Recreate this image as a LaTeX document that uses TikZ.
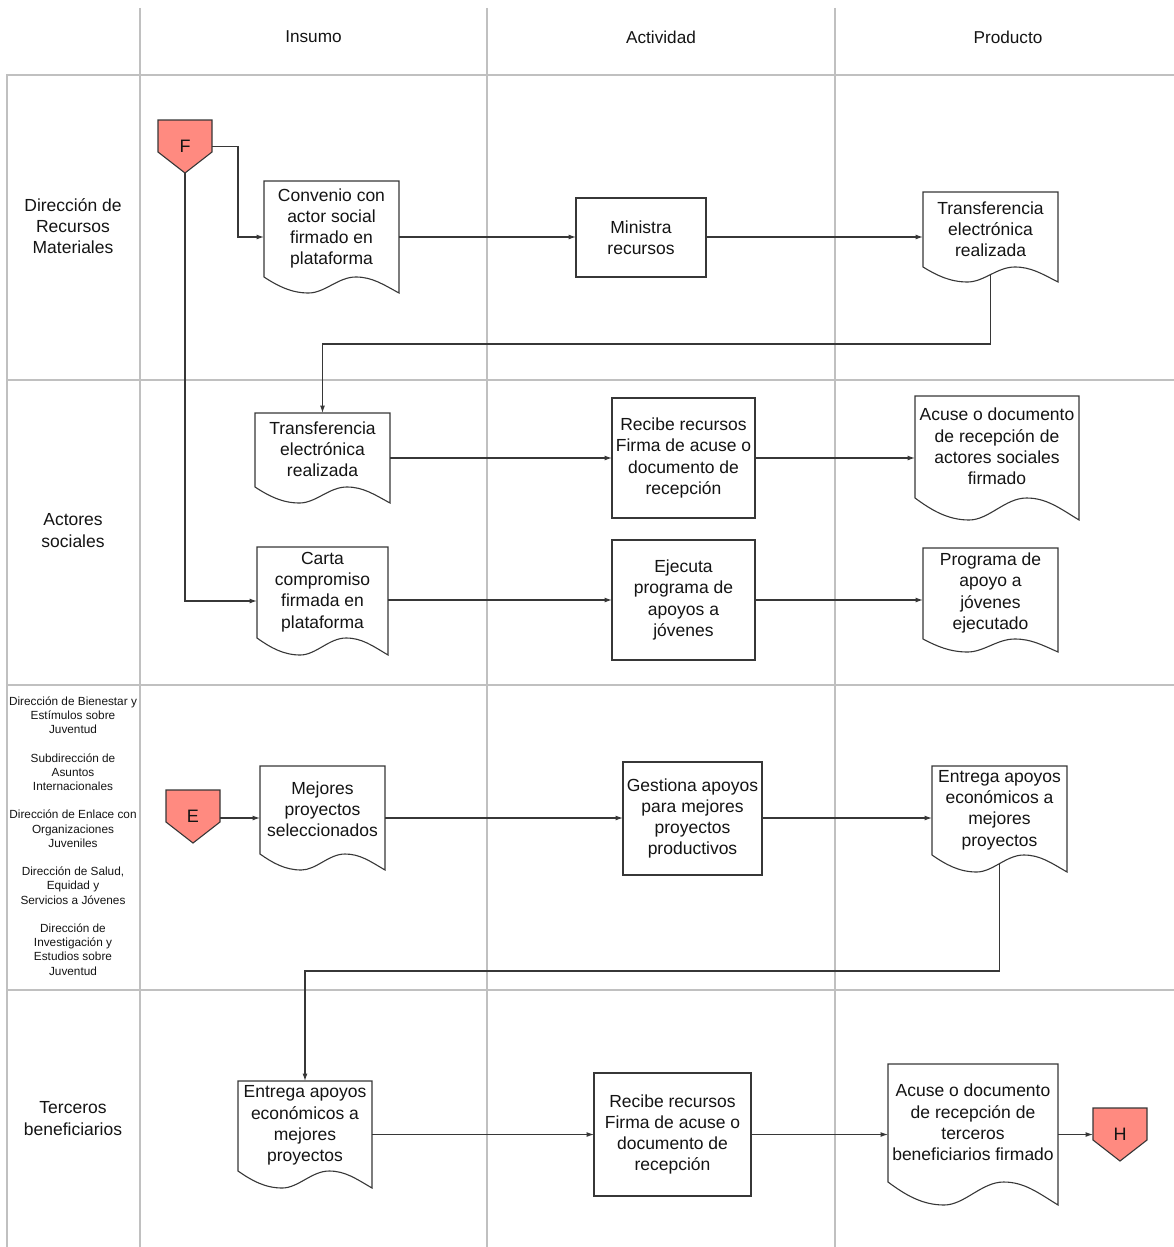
\documentclass[tikz,border=0pt]{standalone}
\usepackage{fontspec}
\setmainfont{Liberation Sans}
\usetikzlibrary{arrows.meta,calc}
\definecolor{gridc}{RGB}{192,192,192}
\definecolor{linec}{RGB}{55,55,55}
\definecolor{salmon}{RGB}{255,138,128}
\definecolor{txtc}{RGB}{20,20,20}

\tikzset{
  gridline/.style={draw=gridc, line width=1.5pt},
  shapeline/.style={draw=linec, line width=1.1pt, fill=white, line join=miter},
  ghost/.style={draw=none, inner sep=0pt, outer sep=0pt},
  txt/.style={font=\fontsize{17.5}{21.2}\selectfont, align=center, text=txtc, inner sep=0pt},
  rectbox/.style={shapeline, rectangle, inner sep=0pt, outer sep=0pt, txt},
  lanelabel/.style={txt},
  smalllabel/.style={font=\fontsize{11.8}{14.2}\selectfont, align=center, text=txtc, inner sep=0pt},
  headlabel/.style={font=\fontsize{17.2}{20}\selectfont, align=center, text=txtc, inner sep=0pt},
  arr/.style={draw=linec, line width=1.1pt, -{Latex[length=7.5pt,width=5pt]}},
}

% document shape: name, L, T, R, B, wave depth, text
\newcommand\docnode[7]{%
  \pgfmathsetmacro\dWd{#4-#2}%
  \pgfmathsetmacro\dHd{#5-#3}%
  \draw[shapeline] (#2,#3) -- (#4,#3) -- (#4,#5)
    .. controls ({#2+0.88*\dWd},{#5-0.55*#6}) and ({#2+0.8*\dWd},{#5-#6}) .. ({#2+0.68*\dWd},{#5-#6})
    .. controls ({#2+0.55*\dWd},{#5-#6}) and ({#2+0.45*\dWd},#5) .. ({#2+0.33*\dWd},#5)
    .. controls ({#2+0.2*\dWd},#5) and ({#2+0.1*\dWd},{#5-0.45*#6}) .. (#2,{#5-#6}) -- cycle;
  \node[ghost, minimum width=\dWd pt, minimum height=\dHd pt] (#1) at ({(#2+#4)/2},{(#3+#5)/2}) {};
  \node[txt] (#1-t) at ({(#2+#4)/2},{(#3+#5-#6)/2-0.5}) {#7};
}
% process box: name, L, T, R, B, text
\newcommand\rectnode[6]{%
  \pgfmathsetmacro\dWd{#4-#2}%
  \pgfmathsetmacro\dHd{#5-#3}%
  \node[rectbox, minimum width=\dWd pt, minimum height=\dHd pt] (#1) at ({(#2+#4)/2},{(#3+#5)/2}) {#6};
}
% off-page connector: name, cx, top, letter
\newcommand\offnode[4]{%
  \draw[shapeline, fill=salmon] ({#2-27},#3) -- ({#2+27},#3) -- ({#2+27},{#3+32}) -- (#2,{#3+53}) -- ({#2-27},{#3+32}) -- cycle;
  \node[ghost, minimum width=54pt, minimum height=53pt, font=\fontsize{18}{20}\selectfont, text=txtc] (#1) at (#2,{#3+26.5}) {#4};
}

\begin{document}
\begin{tikzpicture}[x=1pt,y=-1pt]
\useasboundingbox (0,0) rectangle (1174,1247);

% ---- grid ----
\draw[gridline] (140,8) -- (140,1247);
\draw[gridline] (487,8) -- (487,1247);
\draw[gridline] (835,8) -- (835,1247);
\draw[gridline] (7,1247) -- (7,75) -- (1174,75);
\draw[gridline] (7,380) -- (1174,380);
\draw[gridline] (7,685) -- (1174,685);
\draw[gridline] (7,990) -- (1174,990);

% ---- headers ----
\node[headlabel] (h1) at (313.5,37) {Insumo};
\node[headlabel] (h2) at (661,37) {Actividad};
\node[headlabel] (h3) at (1008,37) {Producto};

% ---- lane labels ----
\node[lanelabel] (l1) at (73,226) {Dirección de\\Recursos\\Materiales};
\node[lanelabel] (l2) at (73,530.5) {Actores\\sociales};
\node[smalllabel] (l3) at (73,836) {Dirección de Bienestar y\\Estímulos sobre\\Juventud\\[14.2pt]Subdirección de\\Asuntos\\Internacionales\\[14.2pt]Dirección de Enlace con\\Organizaciones\\Juveniles\\[14.2pt]Dirección de Salud,\\Equidad y\\Servicios a Jóvenes\\[14.2pt]Dirección de\\Investigación y\\Estudios sobre\\Juventud};
\node[lanelabel] (l4) at (73,1118.5) {Terceros\\beneficiarios};

% ---- lane 1 ----
\offnode{F}{185}{120}{F}
\docnode{conv}{264}{181}{399}{293}{16}{Convenio con\\actor social\\firmado en\\plataforma}
\rectnode{mini}{576}{198}{706}{277}{Ministra\\recursos}
\docnode{trA}{923}{192}{1058}{282}{15}{Transferencia\\electrónica\\realizada}

% ---- lane 2 ----
\docnode{trB}{255}{413}{390}{503}{16}{Transferencia\\electrónica\\realizada}
\rectnode{recA}{612}{398}{755}{518}{Recibe recursos\\Firma de acuse o\\documento de\\recepción}
\docnode{acuA}{915}{396}{1079}{520}{22}{Acuse o documento\\de recepción de\\actores sociales\\firmado}
\docnode{carta}{257}{547}{388}{655}{17}{Carta\\compromiso\\firmada en\\plataforma}
\rectnode{ejec}{612}{540}{755}{660}{Ejecuta\\programa de\\apoyos a\\jóvenes}
\docnode{prog}{923}{548}{1058}{652}{13}{Programa de\\apoyo a\\jóvenes\\ejecutado}

% ---- lane 3 ----
\offnode{E}{193}{790}{E}
\docnode{mejo}{260}{766}{385}{870}{16}{Mejores\\proyectos\\seleccionados}
\rectnode{gest}{623}{762}{762}{875}{Gestiona apoyos\\para mejores\\proyectos\\productivos}
\docnode{entA}{932}{766}{1067}{872}{17}{Entrega apoyos\\económicos a\\mejores\\proyectos}

% ---- lane 4 ----
\docnode{entB}{238}{1081}{372}{1188}{17}{Entrega apoyos\\económicos a\\mejores\\proyectos}
\rectnode{recB}{594}{1073}{751}{1196}{Recibe recursos\\Firma de acuse o\\documento de\\recepción}
\docnode{acuB}{888}{1064}{1058}{1205}{23}{Acuse o documento\\de recepción de\\terceros\\beneficiarios firmado}
\offnode{H}{1120}{1108}{H}

% ---- connectors ----
\coordinate (j1) at (991,344);
\coordinate (j2) at (1000,971);

\draw[arr] (F.east) -- ++(26,0) |- (conv.west);
\draw[arr] (F.south) |- (carta.west);
\draw[arr] (conv.east) -- (conv.east -| mini.west);
\draw[arr] (mini.east |- conv.east) -- (conv.east -| trA.west);
\draw[arr] ([yshift=7.5pt]trA.south) -- (trA.south |- j1) -| (trB.north);
\draw[arr] (trB.east) -- (trB.east -| recA.west);
\draw[arr] (recA.east |- trB.east) -- (trB.east -| acuA.west);
\draw[arr] (carta.east |- ejec.west) -- (ejec.west);
\draw[arr] (ejec.east) -- (ejec.east -| prog.west);
\draw[arr] (E.east |- mejo.west) -- (mejo.west);
\draw[arr] (mejo.east) -- (mejo.east -| gest.west);
\draw[arr] (gest.east |- mejo.east) -- (mejo.east -| entA.west);
\draw[arr] ([yshift=8.5pt]entA.south) -- (entA.south |- j2) -| (entB.north);
\draw[arr] (entB.east) -- (entB.east -| recB.west);
\draw[arr] (recB.east) -- (recB.east -| acuB.west);
\draw[arr] (acuB.east) -- (acuB.east -| H.west);
\end{tikzpicture}
\end{document}
